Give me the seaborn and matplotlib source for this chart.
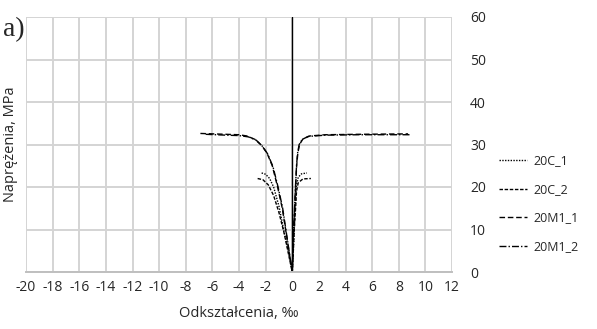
import pandas as pd
import matplotlib
matplotlib.use("Agg")
import matplotlib.pyplot as plt
import seaborn as sns

# strain (per mille) and stress (MPa)
c1_x = [-2.3, -2.0, -1.7, -1.4, -1.0, -0.65, -0.3, 0.0, 0.08, 0.15, 0.22, 0.3, 0.45, 0.7, 1.1]
c1_y = [23.3, 23.0, 22.0, 20.0, 15.5, 10.0, 5.0, 0.0, 5.0, 10.0, 15.0, 20.0, 22.3, 23.1, 23.3]

c2_x = [-2.6, -2.2, -1.8, -1.4, -1.0, -0.6, -0.3, 0.0, 0.08, 0.15, 0.25, 0.32, 0.45, 0.8, 1.4]
c2_y = [22.0, 21.7, 20.5, 18.0, 14.0, 9.0, 4.5, 0.0, 5.0, 10.0, 15.0, 19.0, 21.0, 21.9, 22.0]

m1_x = [-6.9, -5.0, -4.0, -3.4, -2.8, -2.3, -1.9, -1.5, -1.1, -0.75, -0.5, -0.25, 0.0,
        0.05, 0.1, 0.18, 0.25, 0.33, 0.42, 0.55, 0.8, 1.3, 2.5, 5.0, 8.7]
m1_y = [32.6, 32.4, 32.3, 32.0, 31.2, 29.8, 28.0, 25.0, 20.0, 15.0, 10.0, 5.0, 0.0,
        5.0, 10.0, 15.0, 20.0, 25.0, 28.0, 30.0, 31.3, 32.0, 32.3, 32.4, 32.5]

m2_x = [-6.5, -5.0, -4.0, -3.3, -2.7, -2.25, -1.85, -1.45, -1.05, -0.72, -0.48, -0.24, 0.0,
        0.05, 0.1, 0.17, 0.24, 0.32, 0.4, 0.52, 0.75, 1.2, 2.5, 5.0, 8.9]
m2_y = [32.4, 32.2, 32.1, 31.8, 31.0, 29.6, 27.8, 24.8, 19.8, 15.0, 10.0, 5.0, 0.0,
        5.0, 10.0, 15.0, 20.0, 25.0, 28.0, 30.0, 31.2, 31.9, 32.2, 32.3, 32.3]

names = ["20C_1", "20C_2", "20M1_1", "20M1_2"]
xs = [c1_x, c2_x, m1_x, m2_x]
ys = [c1_y, c2_y, m1_y, m2_y]

x_ticks = list(range(-20, 13, 2))
y_ticks = list(range(0, 61, 10))

frames = []
for n, x, y in zip(names, xs, ys):
    frames.append(pd.DataFrame({"strain": x, "stress": y, "series": n}))
df = pd.concat(frames, ignore_index=True)

sns.set_style("white")
plt.rcParams["font.family"] = ["Open Sans", "DejaVu Sans"]
plt.rcParams["axes.unicode_minus"] = False

fig = plt.figure(figsize=(5.97, 3.29), dpi=100)
ax = fig.add_axes([26 / 597, 1 - 272 / 329, (452 - 26) / 597, (272 - 17) / 329])

dashes = {"20C_1": (1, 1), "20C_2": (2.5, 1.2), "20M1_1": (4, 2), "20M1_2": (5, 1.5, 1, 1.5)}
sns.lineplot(data=df, x="strain", y="stress", hue="series", style="series",
             palette={n: "black" for n in names}, dashes=dashes, sort=False,
             estimator=None, linewidth=1.0, ax=ax, legend=False)

ax.set_xlim(-20, 12)
ax.set_ylim(0, 60)
ax.set_xticks(x_ticks)
ax.set_yticks(y_ticks)
ax.grid(True, color="#d4d4d4", linewidth=1.4)
ax.set_axisbelow(True)
ax.axvline(0, color="black", linewidth=1.0, zorder=1)

for s in ["top", "left", "right"]:
    ax.spines[s].set_visible(False)
ax.spines["bottom"].set_color("#bfbfbf")
ax.spines["bottom"].set_linewidth(1.4)

ax.yaxis.tick_right()
ax.yaxis.set_label_position("left")
ax.tick_params(axis="y", length=0, pad=13, labelsize=10)
ax.tick_params(axis="x", length=0, pad=6, labelsize=10)
ax.set_xlabel("Odkształcenia, ‰", fontsize=10.5, labelpad=8)
ax.set_ylabel("Naprężenia, MPa", fontsize=10.5, labelpad=6)

handles = ax.get_lines()[:4]
fig.legend(handles, names, loc="upper left", bbox_to_anchor=(488 / 597, 1 - 143 / 329),
           frameon=False, fontsize=9, labelspacing=1.25, handlelength=2.2, handletextpad=0.5)

fig.text(3 / 597, 1 - 30 / 329, "a)", fontsize=20, family="Liberation Serif", va="center")

fig.savefig("out.png", dpi=100)
